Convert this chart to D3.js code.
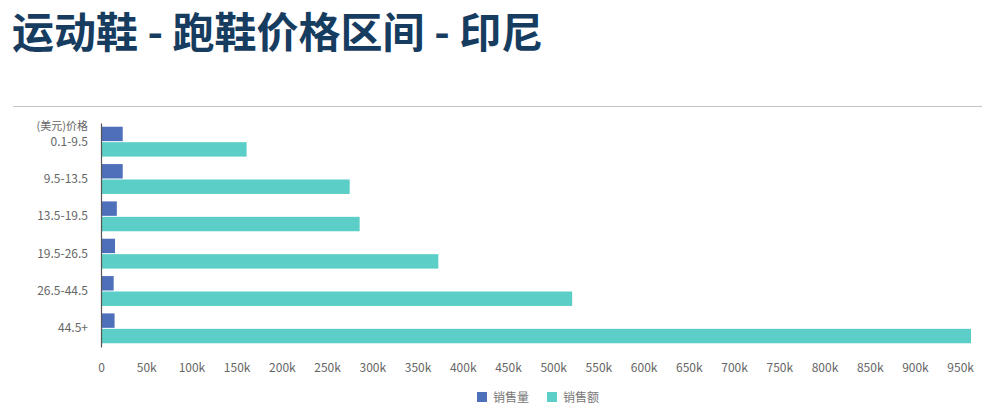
<!DOCTYPE html>
<html>
<head>
<meta charset="utf-8">
<script src="https://cdn.jsdelivr.net/npm/d3@7"></script>
<style>
  body { margin: 0; background: #fff; }
  svg text { font-family: "Noto Sans CJK SC", "Noto Sans", sans-serif; }
</style>
</head>
<body>
<div id="container"></div>
<script>
// price ranges (USD) and the two series
const categories = ["0.1-9.5", "9.5-13.5", "13.5-19.5", "19.5-26.5", "26.5-44.5", "44.5+"];
const qty = [24000, 24000, 17500, 15500, 14000, 15000];        // 销售量
const amount = [161000, 275000, 286000, 373000, 521000, 962000]; // 销售额
const xTicks = [0, 50000, 100000, 150000, 200000, 250000, 300000, 350000, 400000, 450000,
  500000, 550000, 600000, 650000, 700000, 750000, 800000, 850000, 900000, 950000];
const seriesNames = ["销售量", "销售额"];
const colors = ["#4e6fba", "#5bcec7"];

const W = 998, H = 417;
const svg = d3.select("#container").append("svg")
  .attr("width", W).attr("height", H);

// title
svg.append("text")
  .attr("x", 12).attr("y", 48)
  .style("font-size", "42px")
  .style("font-weight", "bold")
  .attr("fill", "#163c5f")
  .text("运动鞋 - 跑鞋价格区间 - 印尼");

svg.append("line")
  .attr("x1", 13).attr("x2", 982)
  .attr("y1", 106.5).attr("y2", 106.5)
  .attr("stroke", "#c4c4c4").attr("stroke-width", 1);

const x = d3.scaleLinear()
  .domain([0, d3.max(amount)])
  .range([101, 971]);

const y = d3.scaleBand()
  .domain(categories)
  .range([123, 347])
  .paddingInner(0.2)
  .paddingOuter(0.1);

const inner = d3.scaleBand()
  .domain([0, 1])
  .range([0, y.bandwidth()]);

const groups = svg.selectAll("g.cat")
  .data(categories)
  .enter()
  .append("g")
  .attr("class", "cat")
  .attr("transform", d => `translate(0, ${y(d)})`);

groups.append("rect")
  .attr("x", x(0))
  .attr("y", inner(0))
  .attr("width", (d, i) => x(qty[i]) - x(0))
  .attr("height", inner.bandwidth() - 0.5)
  .attr("fill", colors[0]);

groups.append("rect")
  .attr("x", x(0))
  .attr("y", inner(1) + 0.5)
  .attr("width", (d, i) => x(amount[i]) - x(0))
  .attr("height", inner.bandwidth() - 0.5)
  .attr("fill", colors[1]);

// y axis
const yAxis = svg.append("g")
  .attr("transform", `translate(${x(0)}, 0)`)
  .call(d3.axisLeft(y).tickSize(0).tickPadding(13));
yAxis.select(".domain").attr("stroke", "#555").attr("stroke-width", 1.2);
yAxis.selectAll("text")
  .style("font-size", "12px")
  .attr("fill", "#666");

svg.append("text")
  .attr("x", 88).attr("y", 130)
  .attr("text-anchor", "end")
  .style("font-size", "11px")
  .attr("fill", "#666")
  .text("(美元)价格");

// x axis (labels only)
const xAxis = svg.append("g")
  .attr("transform", "translate(0, 347)")
  .call(d3.axisBottom(x).tickValues(xTicks).tickSize(0).tickPadding(16)
    .tickFormat(d => d === 0 ? "0" : (d / 1000) + "k"));
xAxis.select(".domain").remove();
xAxis.selectAll("text")
  .style("font-size", "12px")
  .attr("fill", "#666");

// legend
const legend = svg.append("g");
const legendX = [477, 547];
seriesNames.forEach((name, i) => {
  legend.append("rect")
    .attr("x", legendX[i]).attr("y", 392)
    .attr("width", 10).attr("height", 10)
    .attr("fill", colors[i]);
  legend.append("text")
    .attr("x", legendX[i] + 16).attr("y", 401.5)
    .style("font-size", "12px")
    .attr("fill", "#777")
    .text(name);
});
</script>
</body>
</html>
